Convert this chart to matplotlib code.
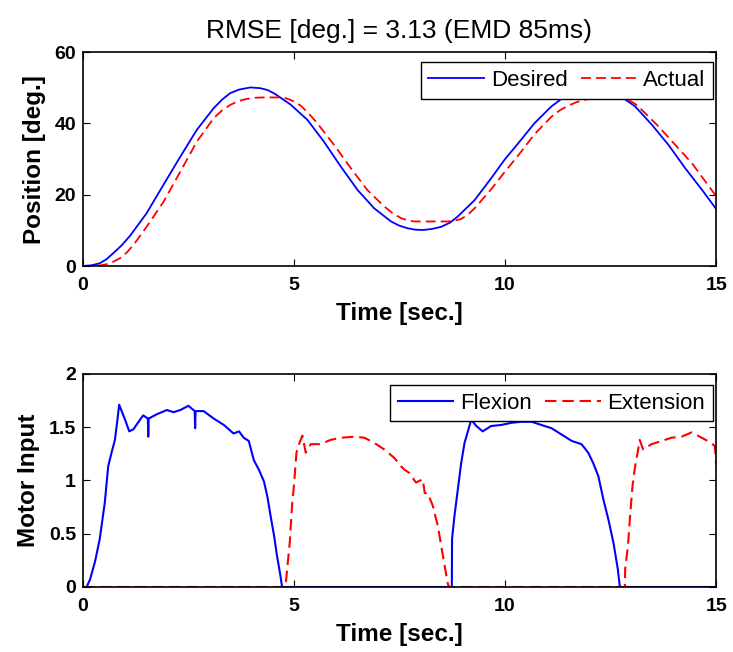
import matplotlib
matplotlib.use("Agg")
import matplotlib.pyplot as plt

plt.rcParams['font.family'] = ['Liberation Sans', 'DejaVu Sans']

# top plot: joint position (deg) vs time (s)
t_desired = [0, 0.2, 0.4, 0.56, 0.72, 0.92, 1.12, 1.51, 1.91, 2.31, 2.70, 3.10, 3.30,
             3.49, 3.70, 3.97, 4.20, 4.37, 4.55, 4.76, 4.92, 5.32, 5.71, 6.11, 6.51,
             6.90, 7.30, 7.50, 7.69, 7.87, 8.05, 8.27, 8.49, 8.70, 8.88, 9.28, 9.67,
             10.0, 10.31, 10.70, 11.10, 11.42, 11.75, 12.05, 12.37, 12.69, 13.08,
             13.48, 13.87, 14.27, 14.67, 15.0]
pos_desired = [0, 0.2, 0.75, 1.9, 3.6, 5.8, 8.5, 14.8, 22.8, 30.7, 38.2, 44.3, 46.7,
               48.5, 49.5, 50.1, 49.9, 49.4, 48.3, 46.6, 45.3, 41.0, 34.9, 27.9, 21.3,
               16.2, 12.5, 11.3, 10.6, 10.2, 10.1, 10.4, 11.0, 12.2, 13.9, 18.5, 24.6,
               30.0, 34.4, 40.1, 44.8, 47.6, 48.8, 49.2, 48.9, 48.0, 44.8,
               39.6, 34.0, 27.4, 21.3, 16.0]

t_actual = [0, 0.24, 0.40, 0.56, 0.72, 0.88, 1.04, 1.20, 1.51, 1.91, 2.31, 2.70, 3.10,
            3.30, 3.49, 3.69, 3.89, 4.08, 4.28, 4.68, 4.80, 4.92, 5.04, 5.16, 5.35,
            5.55, 5.95, 6.35, 6.74, 7.14, 7.34, 7.54, 7.70, 7.85, 8.25, 8.64, 8.80,
            8.96, 9.12, 9.28, 9.67, 10.0, 10.31, 10.70, 11.10, 11.30, 11.50, 11.70,
            11.89, 12.05, 12.2, 12.7, 12.82, 12.92, 13.08, 13.24, 13.64, 14.03, 14.43,
            14.82, 15.0]
pos_actual = [0, 0, 0.15, 0.5, 1.2, 2.2, 3.8, 5.9, 11.0, 18.0, 26.5, 34.9, 41.5,
              43.7, 45.2, 46.3, 46.9, 47.2, 47.3, 47.3, 47.1, 46.6, 45.9, 45.0, 42.8,
              40.1, 34.0, 27.4, 21.3, 16.7, 14.8, 13.4, 12.8, 12.5, 12.5, 12.5, 12.7,
              13.2, 14.4, 16.2, 21.5, 26.5, 31.0, 37.0, 41.9, 43.7, 45.0, 46.0,
              46.6, 47.1, 47.3, 47.3, 47.0, 46.6, 45.5, 43.8, 39.1, 34.0, 28.8,
              22.5, 19.6]

# bottom plot: motor input
t_flex = [0, 0.09, 0.17, 0.29, 0.40, 0.52, 0.60, 0.68, 0.76, 0.82, 0.86, 0.92, 1.00,
          1.10, 1.20, 1.32, 1.43, 1.54, 1.55, 1.56, 1.75, 1.99, 2.15, 2.31, 2.50, 2.65,
          2.66, 2.67, 2.86, 3.10, 3.34, 3.57, 3.70, 3.81, 3.93, 4.05, 4.17, 4.29, 4.37,
          4.45, 4.53, 4.60, 4.67, 4.72, 8.74, 8.745, 8.80, 8.88, 8.96, 9.04, 9.12,
          9.20, 9.32, 9.47, 9.67, 9.91, 10.15, 10.39, 10.63, 10.86, 11.10, 11.34,
          11.58, 11.81, 11.97, 12.09, 12.21, 12.33, 12.45, 12.57, 12.67, 12.72, 15.0]
flex = [0, 0, 0.07, 0.24, 0.45, 0.79, 1.13, 1.26, 1.38, 1.57, 1.71, 1.65, 1.57,
        1.46, 1.48, 1.55, 1.61, 1.58, 1.41, 1.58, 1.62, 1.66, 1.64, 1.66, 1.70, 1.65,
        1.49, 1.65, 1.65, 1.58, 1.52, 1.44, 1.46, 1.40, 1.37, 1.19, 1.10, 0.99, 0.85,
        0.66, 0.48, 0.29, 0.13, 0, 0, 0.45, 0.66, 0.91, 1.16, 1.35, 1.46,
        1.57, 1.51, 1.46, 1.51, 1.52, 1.54, 1.55, 1.55, 1.52, 1.49, 1.43,
        1.37, 1.34, 1.26, 1.16, 1.04, 0.82, 0.63, 0.41, 0.17, 0, 0]

t_ext = [0, 4.80, 4.84, 4.90, 4.96, 5.00, 5.06, 5.12, 5.20, 5.28, 5.40, 5.63, 5.87,
         6.11, 6.43, 6.67, 6.91, 7.14, 7.38, 7.54, 7.62, 7.73, 7.89, 8.05, 8.10, 8.17,
         8.29, 8.41, 8.53, 8.64, 8.67, 12.84, 12.845, 12.91, 12.96, 13.02, 13.08,
         13.14, 13.19, 13.27, 13.47, 13.71, 13.94, 14.18, 14.42, 14.66, 14.89, 14.97, 15.0]
ext = [0, 0, 0.17, 0.41, 0.79, 0.95, 1.26, 1.34, 1.42, 1.26, 1.34, 1.34, 1.38,
       1.40, 1.41, 1.40, 1.35, 1.29, 1.21, 1.13, 1.10, 1.07, 0.98, 1.01, 0.88, 0.88,
       0.76, 0.57, 0.29, 0.04, 0, 0, 0.17, 0.38, 0.66, 0.95, 1.13,
       1.26, 1.38, 1.29, 1.34, 1.37, 1.40, 1.41, 1.45, 1.40, 1.35, 1.32, 1.15]

x_ticks = [0, 5, 10, 15]
pos_ticks = [0, 20, 40, 60]
motor_ticks = [0, 0.5, 1, 1.5, 2]
motor_tick_labels = ['0', '0.5', '1', '1.5', '2']

dash = (0, (5.5, 2.8))

fig = plt.figure(figsize=(7.33, 6.52), dpi=100)
ax1 = fig.add_axes([0.113, 0.592, 0.864, 0.328])
ax2 = fig.add_axes([0.113, 0.0997, 0.864, 0.327])

ax1.plot(t_desired, pos_desired, color='blue', lw=1.3, label='Desired')
ax1.plot(t_actual, pos_actual, color='red', lw=1.3, linestyle=dash, label='Actual')
ax1.set_xlim(0, 15)
ax1.set_ylim(0, 60)
ax1.set_yticks(pos_ticks)
ax1.set_ylabel('Position [deg.]', fontsize=17.5, fontweight='bold', labelpad=6)
ax1.set_title('RMSE [deg.] = 3.13 (EMD 85ms)', fontsize=19, pad=10)

ax2.plot(t_flex, flex, color='blue', lw=1.5, label='Flexion')
ax2.plot(t_ext, ext, color='red', lw=1.5, linestyle=dash, label='Extension')
ax2.set_xlim(0, 15)
ax2.set_ylim(0, 2)
ax2.set_yticks(motor_ticks)
ax2.set_yticklabels(motor_tick_labels)
ax2.set_ylabel('Motor Input', fontsize=17.5, fontweight='bold', labelpad=6)

for ax, top in ((ax1, 0.953), (ax2, 0.948)):
    ax.set_xticks(x_ticks)
    ax.set_xlabel('Time [sec.]', fontsize=17.5, fontweight='bold', labelpad=6)
    ax.tick_params(direction='in', top=True, right=True, length=5, width=0.8,
                   labelsize=14, pad=5)
    ax.tick_params(axis='x', pad=8)
    for lab in ax.get_xticklabels() + ax.get_yticklabels():
        lab.set_fontweight('bold')
    for sp in ax.spines.values():
        sp.set_linewidth(1.2)
    leg = ax.legend(loc='upper right', bbox_to_anchor=(0.995, top), ncol=2,
                    fontsize=16, fancybox=False, edgecolor='black', framealpha=1,
                    handlelength=2.5, borderpad=0.35, columnspacing=0.6,
                    handletextpad=0.3, borderaxespad=0)
    leg.get_frame().set_linewidth(1.0)

fig.savefig('out.png', dpi=100)
